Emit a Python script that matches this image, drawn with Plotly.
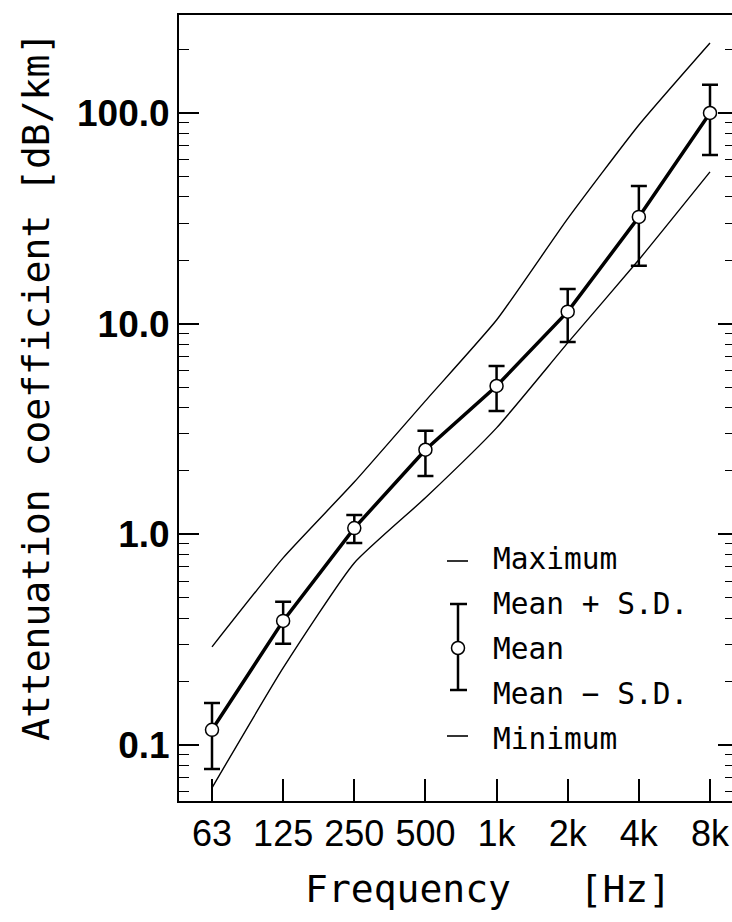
import plotly.graph_objects as go

# ---------------- data ----------------
freq_labels = ["63", "125", "250", "500", "1k", "2k", "4k", "8k"]
mean_vals = [0.118, 0.388, 1.07, 2.52, 5.06, 11.4, 32.1, 100.0]
mean_plus_sd = [0.158, 0.478, 1.236, 3.10, 6.30, 14.6, 45.0, 136.0]
mean_minus_sd = [0.077, 0.302, 0.910, 1.89, 3.85, 8.19, 18.8, 63.2]
max_vals = [0.292, 0.773, 1.77, 4.30, 10.4, 31.5, 87.7, 215.0]
min_vals = [0.0626, 0.232, 0.731, 1.49, 3.20, 8.10, 20.1, 52.5]

y_tick_vals = [0.1, 1, 10, 100]
y_tick_text = ["0.1", "1.0", "10.0", "100.0"]

legend_labels = ["Maximum", "Mean + S.D.", "Mean", "Mean − S.D.", "Minimum"]

# ---------------- layout geometry ----------------
W, H = 732, 922
L, R, T, B = 179, 0, 15, 121
PW, PH = W - L - R, H - T - B

def px(xp):
    return (xp - L) / PW

def py(yp):
    return (H - B - yp) / PH

xi = list(range(len(freq_labels)))
err_plus = [p - m for p, m in zip(mean_plus_sd, mean_vals)]
err_minus = [m - n for m, n in zip(mean_vals, mean_minus_sd)]

minor_vals = [m * 10 ** e for e in range(-2, 3) for m in range(2, 10)]

fig = go.Figure()

fig.add_trace(go.Scatter(
    x=xi, y=max_vals, mode="lines",
    line=dict(color="black", width=1.4, shape="spline", smoothing=0.5),
    showlegend=False, hoverinfo="skip"))
fig.add_trace(go.Scatter(
    x=xi, y=min_vals, mode="lines",
    line=dict(color="black", width=1.4, shape="spline", smoothing=0.5),
    showlegend=False, hoverinfo="skip"))
fig.add_trace(go.Scatter(
    x=xi, y=mean_vals, mode="lines+markers",
    line=dict(color="black", width=3.5),
    marker=dict(symbol="circle", size=13, color="white",
                line=dict(color="black", width=1.5)),
    error_y=dict(type="data", symmetric=False, array=err_plus,
                 arrayminus=err_minus, color="black", thickness=2.5, width=8),
    showlegend=False))
# empty trace so that the right-hand tick axis is built
fig.add_trace(go.Scatter(x=[], y=[], yaxis="y2", showlegend=False,
                         hoverinfo="skip"))

mono = "DejaVu Sans Mono, monospace"

fig.update_layout(
    width=W, height=H,
    margin=dict(l=L, r=R, t=T, b=B, pad=0, autoexpand=False),
    paper_bgcolor="white", plot_bgcolor="white",
    showlegend=False,
    xaxis=dict(
        automargin=False,
        range=[(L - 212) / 71.14, 7 + (W - 710) / 71.14],
        tickmode="array", tickvals=xi, ticktext=freq_labels,
        ticks="inside", ticklen=22, tickwidth=1.5, tickcolor="black",
        showline=True, linewidth=2, linecolor="black", mirror=True,
        showgrid=False, zeroline=False,
        tickfont=dict(family="Liberation Sans Narrow, Arial Narrow, Liberation Sans, sans-serif",
                      size=36, color="black"),
    ),
    yaxis=dict(
        automargin=False,
        type="log", range=[-1.266, 2.465],
        tickmode="array", tickvals=y_tick_vals, ticktext=y_tick_text,
        ticks="inside", ticklen=20, tickwidth=1.5, tickcolor="black",
        minor=dict(tickvals=minor_vals, ticks="inside", ticklen=10,
                   tickwidth=1.2, tickcolor="black", showgrid=False),
        showline=True, linewidth=2, linecolor="black", mirror=False,
        showgrid=False, zeroline=False,
        tickfont=dict(family="Liberation Sans, Arial, sans-serif", size=37,
                      color="black", weight="bold"),
    ),
    yaxis2=dict(
        automargin=False,
        type="log", range=[-1.266, 2.465], overlaying="y", side="right",
        anchor="x",
        tickmode="array", tickvals=y_tick_vals, showticklabels=False,
        ticks="inside", ticklen=14, tickwidth=1.5, tickcolor="black",
        minor=dict(tickvals=minor_vals, ticks="inside", ticklen=7,
                   tickwidth=1.2, tickcolor="black", showgrid=False),
        showline=False, showgrid=False, zeroline=False,
    ),
)

annotations = [
    dict(text="Attenuation coefficient [dB/km]", xref="paper", yref="paper",
         x=px(36), y=py(387), xanchor="center", yanchor="middle",
         textangle=-90, showarrow=False,
         font=dict(family=mono, size=38, color="black")),
    dict(text="Frequency   [Hz]", xref="paper", yref="paper",
         x=px(303), y=py(889), xanchor="left", yanchor="middle",
         showarrow=False, font=dict(family=mono, size=38, color="black")),
]
legend_y = [559, 604, 649, 694, 739]
for lab, yy in zip(legend_labels, legend_y):
    annotations.append(dict(text=lab, xref="paper", yref="paper",
                            x=px(491), y=py(yy), xanchor="left", yanchor="middle",
                            showarrow=False,
                            font=dict(family=mono, size=29.5, color="black")))
fig.update_layout(annotations=annotations)

shapes = [
    # maximum / minimum legend dashes
    dict(type="line", xref="paper", yref="paper", x0=px(447), x1=px(468),
         y0=py(561), y1=py(561), line=dict(color="black", width=1.6)),
    dict(type="line", xref="paper", yref="paper", x0=px(447), x1=px(468),
         y0=py(736), y1=py(736), line=dict(color="black", width=1.6)),
    # error-bar legend symbol
    dict(type="line", xref="paper", yref="paper", x0=px(458), x1=px(458),
         y0=py(604), y1=py(690), line=dict(color="black", width=2.5)),
    dict(type="line", xref="paper", yref="paper", x0=px(450), x1=px(467),
         y0=py(604), y1=py(604), line=dict(color="black", width=2.5)),
    dict(type="line", xref="paper", yref="paper", x0=px(450), x1=px(467),
         y0=py(690), y1=py(690), line=dict(color="black", width=2.5)),
    dict(type="circle", xref="paper", yref="paper", x0=px(451.5), x1=px(464.5),
         y0=py(654.5), y1=py(641.5), fillcolor="white",
         line=dict(color="black", width=1.5)),
]
fig.update_layout(shapes=shapes)

fig.write_html(
    "out.html",
    config={"displayModeBar": False},
    post_script="document.body.style.margin='0';document.body.style.overflow='hidden';",
)
